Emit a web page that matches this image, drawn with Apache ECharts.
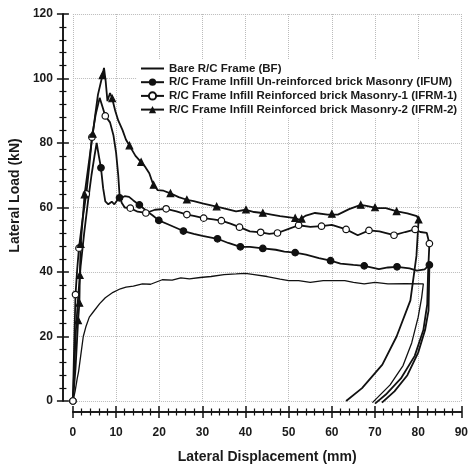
<!DOCTYPE html>
<html>
<head>
<meta charset="utf-8">
<script src="https://cdn.jsdelivr.net/npm/echarts@6/dist/echarts.min.js"></script>
<style>
html, body { margin: 0; padding: 0; background: #fff; }
#chart { width: 471px; height: 469px; }
</style>
</head>
<body>
<div id="chart"></div>
<script>
// series names (legend order)
var names = [
    'Bare R/C Frame (BF)',
    'R/C Frame Infill Un-reinforced brick Masonry (IFUM)',
    'R/C Frame Infill Reinforced brick Masonry-1 (IFRM-1)',
    'R/C Frame Infill Reinforced brick Masonry-2 (IFRM-2)'
];

// [displacement mm, load kN]
var bfCurve = [[0,0],[0.5,3],[1,7],[1.3,9],[1.8,14],[2.4,20],[3,23],[3.8,26],[4.7,27.6],[6.2,30.2],[7.5,32],[9.3,33.7],[11,34.8],[12.3,35.3],[14,35.6],[16.1,36.3],[18,36.2],[20.7,37.6],[23,37.5],[25,38.2],[27,37.9],[29.5,38.3],[32,38.6],[35,39.2],[37.8,39.4],[40,39.6],[42,39.2],[45,38.6],[48,37.8],[50,37.3],[52.3,37.3],[55,36.8],[58,37.3],[60.7,37.3],[63,37.3],[65,36.8],[67.5,36.3],[70,36.8],[73,36.3],[77,36.4],[81.2,36.3],[80.8,32],[80,26],[78.5,18],[76.5,11],[73.5,5],[69.4,-0.5]];

var ifumCurve = [[0,0],[0.3,10],[0.7,22],[1.2,32],[1.8,42],[2.6,52],[3.5,62],[4.3,70],[5,76],[5.5,80],[6,76],[6.5,72.3],[7,66],[7.5,61.9],[8.2,61],[9,61.8],[9.6,61],[10.4,62.5],[10.8,63],[12,63.5],[13,63.3],[14,62.2],[15.4,60.8],[17,59],[18.5,57.5],[19.9,56],[22,54.8],[25.6,52.7],[28,51.8],[30,51.2],[33.5,50.3],[36,49],[38.8,47.8],[41,47.8],[44,47.3],[47,46.9],[49,46.3],[51.5,46],[54,45.4],[57,44.3],[59.7,43.5],[62,42.6],[65,42.2],[67.5,41.9],[70.9,40.9],[73,41.4],[75.1,41.6],[78,41.1],[79.7,40.4],[81.5,40.8],[82.6,42.2],[82.5,35],[82.4,28],[81.6,22],[80,15],[77.5,8],[74.5,3],[71.6,-0.5]];
var ifumMarks = [[0,0],[6.5,72.3],[10.8,63],[15.4,60.8],[19.9,56],[25.6,52.7],[33.5,50.3],[38.8,47.8],[44,47.3],[51.5,46],[59.7,43.5],[67.5,41.9],[75.1,41.6],[82.6,42.2]];

var ifrm1Curve = [[0,0],[0.3,18],[0.6,33],[1,41],[1.4,47.4],[2.2,56],[3.1,64.2],[3.8,73],[4.4,81.8],[5.3,89],[6.2,94],[6.9,91],[7.5,88.4],[8.6,86.4],[9.4,82.3],[10,77],[10.5,70],[10.8,64],[11.3,61.5],[12,60],[13.3,59.8],[15,58.7],[16.9,58.3],[19,59.3],[21.6,59.6],[24,58.8],[26.4,57.8],[28,57.4],[30.3,56.7],[32.5,56.3],[34.4,55.9],[36.5,55],[38.6,53.9],[41,52.6],[43.5,52.3],[45.5,51.8],[47.4,52.1],[50,53.4],[52.3,54.5],[55,54],[57.6,54.2],[60,54.6],[63.3,53.2],[66,51.4],[68.6,52.9],[71,52.6],[74.4,51.4],[77,52.4],[79.3,53.2],[80.5,52.4],[82,52.1],[82.6,48.8],[82.3,40],[82.1,30],[81.2,22],[79.2,14],[76,7],[72.5,2],[70,-0.8]];
var ifrm1Marks = [[0,0],[0.6,33],[1.4,47.4],[3.1,64.2],[4.4,81.8],[7.5,88.4],[13.3,59.8],[16.9,58.3],[21.6,59.6],[26.4,57.8],[30.3,56.7],[34.4,55.9],[38.6,53.9],[43.5,52.3],[47.4,52.1],[52.3,54.5],[57.6,54.2],[63.3,53.2],[68.6,52.9],[74.4,51.4],[79.3,53.2],[82.6,48.8]];

var ifrm2Curve = [[0,0],[0.6,10],[1.2,25],[1.5,30.4],[1.6,39],[1.8,48.6],[2.3,57],[2.7,64],[3.5,72],[4.6,82.8],[5.2,89],[5.8,95],[6.85,101],[7.2,103.3],[7.6,99],[8,93],[8.6,95.5],[9.1,93.8],[9.8,90],[10.5,87],[11.5,84],[12.3,81],[13.1,79.2],[14.5,76],[15.8,74.1],[16.8,72.5],[17.7,70.6],[18.5,67.5],[19.6,65.4],[21,65.2],[22.6,64.4],[24.5,63.2],[26.4,62.4],[28,62],[30,61.3],[33.3,60.3],[35.5,59.6],[37.8,58.8],[40.1,59.3],[42,58.6],[43.9,58.3],[46,57.8],[48,57.3],[51.5,56.7],[52.5,56.2],[54,57.5],[56.1,58.3],[59,57.8],[61.4,57.8],[64,59.5],[66.7,60.8],[68,60.5],[70.5,59.8],[72.5,59.8],[75.1,58.8],[77.5,58.2],[79.7,57.3],[80.1,56.2],[79.6,45],[78.2,31.2],[75,20],[71.7,11.3],[67,4],[63.3,0]];
var ifrm2Marks = [[1.2,25],[1.5,30.4],[1.6,39],[1.8,48.6],[2.7,64],[4.6,82.8],[6.85,101],[9.1,93.8],[13.1,79.2],[15.8,74.1],[18.7,67],[22.6,64.4],[26.4,62.4],[33.3,60.3],[40.1,59.3],[44,58.3],[51.5,56.7],[53,56.5],[60,58],[66.7,60.8],[70,60],[75,58.8],[80.1,56.2]];

var ink = '#111';
var txt = '#1a1a1a';
var font = 'Liberation Sans';

function xAx(inside, main) {
    return {
        type: 'value', min: 0, max: 90, interval: 10, position: 'bottom', offset: 11,
        name: main ? 'Lateral Displacement (mm)' : '',
        nameLocation: 'middle', nameGap: 38,
        nameTextStyle: { fontFamily: font, fontWeight: 'bold', fontSize: 14, color: txt },
        axisLine: { show: true, onZero: false, lineStyle: { color: ink, width: 1.5 } },
        axisTick: { show: true, inside: inside, length: 6, lineStyle: { color: ink, width: 1.5 } },
        minorTick: { show: true, splitNumber: 5, length: 3.5, lineStyle: { color: ink, width: 1.2 } },
        axisLabel: { show: main, margin: 15, fontFamily: font, fontWeight: 'bold', fontSize: 12, color: txt },
        splitLine: { show: main, lineStyle: { color: '#bbb', type: 'dotted', width: 1 } },
        minorSplitLine: { show: false }
    };
}
function yAx(inside, main) {
    return {
        type: 'value', min: 0, max: 120, interval: 20, position: 'left', offset: 10,
        name: main ? 'Lateral Load (kN)' : '',
        nameLocation: 'middle', nameGap: 34,
        nameTextStyle: { fontFamily: font, fontWeight: 'bold', fontSize: 14, color: txt, padding: [0, 0, 0, 24] },
        axisLine: { show: true, onZero: false, lineStyle: { color: ink, width: 1.5 } },
        axisTick: { show: true, inside: inside, length: 6, lineStyle: { color: ink, width: 1.5 } },
        minorTick: { show: true, splitNumber: 5, length: 3.5, lineStyle: { color: ink, width: 1.2 } },
        axisLabel: { show: main, margin: 10, fontFamily: font, fontWeight: 'bold', fontSize: 12, color: txt },
        splitLine: { show: main, lineStyle: { color: '#bbb', type: 'dotted', width: 1 } },
        minorSplitLine: { show: false }
    };
}

function curve(name, pts, sym, width) {
    return {
        name: name, type: 'line', data: pts, symbol: sym, showSymbol: false,
        xAxisIndex: 0, yAxisIndex: 0, clip: false, animation: false, z: 3,
        itemStyle: { color: ink },
        lineStyle: { color: ink, width: width }
    };
}
function marks(name, pts, sym, fill) {
    return {
        name: name, type: 'scatter', data: pts, symbol: sym, symbolSize: 6.5,
        xAxisIndex: 0, yAxisIndex: 0, clip: false, animation: false, z: 4,
        itemStyle: { color: fill, borderColor: ink, borderWidth: 1.2, opacity: 1 }
    };
}

var myChart = echarts.init(document.getElementById('chart'));
var option = {
    backgroundColor: '#fff',
    animation: false,
    grid: { left: 71, right: 6, top: 14, bottom: 64 },
    legend: {
        orient: 'vertical', left: 137, top: 60,
        backgroundColor: '#fff', padding: [2, 3],
        itemWidth: 23, itemHeight: 9, itemGap: 0.7,
        textStyle: { fontFamily: font, fontWeight: 'bold', fontSize: 11.5, color: txt, lineHeight: 13 },
        data: [
            { name: names[0], itemStyle: { opacity: 0 } },
            { name: names[1] },
            { name: names[2] },
            { name: names[3] }
        ]
    },
    xAxis: [xAx(false, true), xAx(true, false)],
    yAxis: [yAx(false, true), yAx(true, false)],
    series: [
        curve(names[0], bfCurve, 'none', 1.3),
        curve(names[1], ifumCurve, 'circle', 1.8),
        curve(names[2], ifrm1Curve, 'emptyCircle', 1.8),
        curve(names[3], ifrm2Curve, 'triangle', 1.8),
        marks(names[1], ifumMarks, 'circle', ink),
        marks(names[2], ifrm1Marks, 'circle', '#fff'),
        marks(names[3], ifrm2Marks, 'triangle', ink)
    ]
};
myChart.setOption(option);
</script>
</body>
</html>
